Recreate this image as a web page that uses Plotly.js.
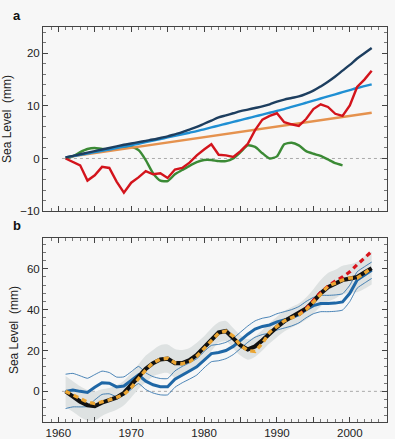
<!DOCTYPE html>
<html>
<head>
<meta charset="utf-8">
<script src="https://cdn.plot.ly/plotly-3.0.1.min.js"></script>
<style>html,body{margin:0;padding:0;background:#f7f7f7;}#chart{width:395px;height:439px;}</style>
</head>
<body>
<div id="chart"></div>
<script>
// ---------- DATA ----------
const years = [1961,1962,1963,1964,1965,1966,1967,1968,1969,1970,1971,1972,1973,1974,1975,1976,1977,1978,1979,1980,1981,1982,1983,1984,1985,1986,1987,1988,1989,1990,1991,1992,1993,1994,1995,1996,1997,1998,1999,2000,2001,2002,2003];

// Panel a
const totalA = [0.2,0.5,0.8,1.1,1.4,1.7,2.0,2.3,2.6,2.85,3.1,3.35,3.6,3.9,4.2,4.6,5.0,5.5,6.0,6.6,7.2,7.8,8.2,8.6,9.0,9.3,9.6,9.9,10.3,10.8,11.2,11.5,11.8,12.3,12.9,13.7,14.6,15.6,16.7,17.8,19.0,20.0,21.0];
const trendBlueA = [0.2,0.45,0.7,0.95,1.2,1.45,1.7,2.0,2.25,2.5,2.8,3.1,3.4,3.7,4.0,4.3,4.6,4.9,5.2,5.55,5.9,6.25,6.6,6.95,7.3,7.65,8.0,8.35,8.7,9.05,9.4,9.8,10.2,10.6,11.0,11.4,11.8,12.2,12.6,13.0,13.4,13.75,14.1];
const trendOrangeYears = [1961, 2003];
const trendOrangeA = [0.2, 8.7];
const redA = [0,-0.6,-1.3,-4.2,-3.2,-1.6,-1.8,-4.4,-6.5,-4.6,-3.6,-2.4,-3.0,-2.8,-3.7,-2.1,-1.8,-0.8,0.6,1.7,2.7,0.7,0.6,0.3,1.4,2.8,5.4,7.4,8.1,8.6,6.9,6.5,6.2,7.5,9.4,10.3,9.8,8.5,8.1,10.1,13.6,15.0,16.7];
const greenA = [0.0,0.4,1.2,1.8,2.0,1.8,1.8,2.0,2.2,2.2,1.6,-0.3,-2.8,-4.2,-4.3,-3.0,-2.2,-1.4,-0.7,-0.3,-0.3,-0.5,-0.5,0.0,1.2,2.5,2.2,1.0,0.0,0.4,2.7,3.0,2.5,1.4,0.9,0.5,-0.2,-0.9,-1.3];

// Panel b
const blackB = [0,-2.5,-5.0,-6.8,-7.2,-5.5,-4.4,-3.0,-0.8,3.0,7.2,11.0,13.8,15.6,16.0,13.8,13.8,15.2,17.8,21.5,25.3,28.8,29.5,26.0,22.5,20.5,22.0,25.0,28.5,31.5,34.3,36.3,38.0,40.5,44.0,48.0,51.0,52.5,54.5,55.2,56.0,58.2,60.3];
const orangeB = [0,-1.8,-3.6,-5.2,-6.0,-5.3,-4.2,-3.0,-1.5,1.8,6.0,10.5,14.0,15.8,16.2,14.0,13.5,14.5,17.2,21.0,25.0,28.5,29.5,27.0,22.5,20.0,19.5,23.5,29.0,32.0,34.5,36.0,37.5,40.0,43.5,47.5,51.5,53.0,54.5,55.5,55.5,57.8,60.5];
const bandErrB = [7.5,7.5,7.5,7.5,7.0,6.5,6.0,6.0,6.0,6.0,6.0,6.5,6.5,7.0,7.0,7.0,6.5,6.0,6.0,5.5,5.5,5.0,5.0,5.0,5.0,5.0,5.0,5.0,5.0,5.0,5.0,5.0,5.0,5.5,6.0,6.5,7.0,7.0,7.0,7.0,7.5,8.0,8.0];
const blueB = [0,0.6,0.0,-0.5,2.0,4.2,4.0,2.2,2.6,5.3,8.0,5.0,3.2,2.3,2.3,6.0,8.2,10.0,12.0,15.5,18.5,19.0,20.0,22.0,25.0,28.0,30.5,31.8,32.5,34.0,35.0,36.0,37.5,40.0,42.0,43.0,43.0,43.2,43.8,48.0,54.5,57.0,59.3];
const blueErrB = [8.4,8.2,7.6,6.9,6.2,5.7,5.2,4.8,4.5,4.3,4.2,4.1,4.0,4.0,4.0,4.0,4.0,4.0,4.0,4.0,4.0,4.0,4.0,4.0,4.0,4.0,4.0,4.0,4.0,4.0,4.0,4.0,4.0,4.0,4.0,4.0,4.0,4.0,4.0,4.0,4.0,4.0,4.0];
const redYearsB = [1993,1994,1995,1996,1997,1998,1999,2000,2001,2002,2003];
const redB = [37.5,40.5,44.5,48.5,51.5,54.0,56.0,58.5,62.0,65.5,68.5];

// Tick labels
const xTickVals = [1960,1965,1970,1975,1980,1985,1990,1995,2000,2005];
const xTickText = ['1960','','1970','','1980','','1990','','2000',''];
const yTickValsA = [-10,0,10,20];
const yTickValsB = [0,20,40,60];
const yTitle = 'Sea Level\u00a0 (mm)';

// ---------- TRACES ----------
const xa = {xaxis:'x', yaxis:'y'};
const xb = {xaxis:'x2', yaxis:'y2'};
const bandLower = blackB.map((v,i)=>v - bandErrB[i]);
const bandUpper = blackB.map((v,i)=>v + bandErrB[i]);
const blueLower = blueB.map((v,i)=>v - blueErrB[i]);
const blueUpper = blueB.map((v,i)=>v + blueErrB[i]);

const traces = [
  // panel a
  Object.assign({x:years.slice(0,greenA.length), y:greenA, mode:'lines', line:{color:'#3b8a35', width:2.4, shape:'spline', smoothing:0.6}}, xa),
  Object.assign({x:trendOrangeYears, y:trendOrangeA, mode:'lines', line:{color:'#e5924e', width:2.4}}, xa),
  Object.assign({x:years, y:trendBlueA, mode:'lines', line:{color:'#1f8fd3', width:2.4, shape:'spline'}}, xa),
  Object.assign({x:years, y:redA, mode:'lines', line:{color:'#d3141c', width:2.4}}, xa),
  Object.assign({x:years, y:totalA, mode:'lines', line:{color:'#1d3e5f', width:2.4, shape:'spline'}}, xa),
  // panel b
  Object.assign({x:years, y:bandLower, mode:'lines', line:{width:0, shape:'spline', smoothing:0.8}, hoverinfo:'skip'}, xb),
  Object.assign({x:years, y:bandUpper, mode:'lines', line:{width:0, shape:'spline', smoothing:0.8}, fill:'tonexty', fillcolor:'#dee2e2', hoverinfo:'skip'}, xb),
  Object.assign({x:years, y:blueUpper, mode:'lines', line:{color:'#1f67a6', width:0.8, shape:'spline', smoothing:0.5}}, xb),
  Object.assign({x:years, y:blueLower, mode:'lines', line:{color:'#1f67a6', width:0.8, shape:'spline', smoothing:0.5}}, xb),
  Object.assign({x:years, y:blueB, mode:'lines', line:{color:'#1f67a6', width:3}}, xb),
  Object.assign({x:years, y:blackB, mode:'lines', line:{color:'#111111', width:4.2}}, xb),
  Object.assign({x:redYearsB, y:redB, mode:'lines', line:{color:'#d8141c', width:3.2, dash:'5px,4px'}}, xb),
  Object.assign({x:years, y:orangeB, mode:'lines', line:{color:'#eba532', width:3.4, dash:'5px,4px'}}, xb)
];

// ---------- LAYOUT ----------
const axisCommon = {
  showgrid:false, zeroline:false, showline:true, linecolor:'#444', linewidth:1,
  mirror:'ticks', ticks:'inside', ticklen:5, tickcolor:'#444', tickwidth:1,
  tickfont:{size:11.5}
};
const xRange = [1957.9, 2005.1];
const layout = {
  width:395, height:439,
  paper_bgcolor:'#f7f7f7', plot_bgcolor:'#f7f7f7',
  margin:{l:43, r:8, t:27, b:17},
  showlegend:false,
  font:{family:'Liberation Sans, Arial, sans-serif', size:11, color:'#222'},
  xaxis:Object.assign({}, axisCommon, {domain:[0,1], anchor:'y', range:xRange, tickmode:'array', tickvals:xTickVals, showticklabels:false,
    minor:{dtick:1, tick0:1960, ticks:'inside', ticklen:3, tickcolor:'#777', showgrid:false}}),
  yaxis:Object.assign({}, axisCommon, {domain:[0.534,1], anchor:'x', range:[-10,25], tickmode:'array', tickvals:yTickValsA,
    minor:{dtick:2, tick0:0, ticks:'inside', ticklen:3, tickcolor:'#777', showgrid:false},
    title:{text:yTitle, font:{size:12}, standoff:5}}),
  xaxis2:Object.assign({}, axisCommon, {domain:[0,1], anchor:'y2', range:xRange, tickmode:'array', tickvals:xTickVals, ticktext:xTickText,
    minor:{dtick:1, tick0:1960, ticks:'inside', ticklen:3, tickcolor:'#777', showgrid:false}}),
  yaxis2:Object.assign({}, axisCommon, {domain:[0,0.4654], anchor:'x2', range:[-15,75], tickmode:'array', tickvals:yTickValsB,
    minor:{dtick:4, tick0:0, ticks:'inside', ticklen:3, tickcolor:'#777', showgrid:false},
    title:{text:yTitle, font:{size:12}, standoff:5}}),
  shapes:[
    {type:'line', xref:'x', yref:'y', x0:years[0]-0.5, x1:xRange[1], y0:0, y1:0, layer:'below', line:{color:'#aaa', width:1, dash:'dot'}},
    {type:'line', xref:'x2', yref:'y2', x0:years[0]-0.5, x1:xRange[1], y0:0, y1:0, layer:'below', line:{color:'#aaa', width:1, dash:'dot'}}
  ],
  annotations:[
    {text:'<b>a</b>', xref:'paper', yref:'paper', x:-0.076, y:1.03, xanchor:'center', yanchor:'middle', showarrow:false, font:{size:13, color:'#111'}},
    {text:'<b>b</b>', xref:'paper', yref:'paper', x:-0.076, y:0.498, xanchor:'center', yanchor:'middle', showarrow:false, font:{size:13, color:'#111'}}
  ]
};

Plotly.newPlot('chart', traces, layout, {staticPlot:true, displayModeBar:false});
</script>
</body>
</html>
